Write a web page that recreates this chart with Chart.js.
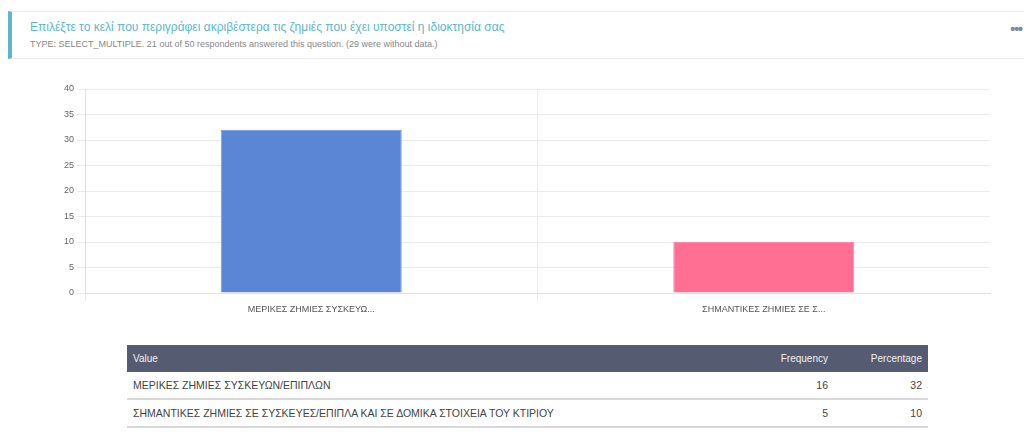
<!DOCTYPE html>
<html>
<head>
<meta charset="utf-8">
<script src="https://cdn.jsdelivr.net/npm/chart.js@4/dist/chart.umd.min.js"></script>
<style>
  body { margin: 0; background: #fff; font-family: "Liberation Sans", Arial, sans-serif; }
  .wrap { position: relative; width: 1024px; height: 446px; overflow: hidden; }
  .head {
    position: absolute; left: 8px; top: 11px; right: 0; height: 46px;
    border-top: 1px solid #ececec; border-bottom: 1px solid #ececec;
    border-left: 4px solid #5bb8c9;
  }
  .title { position: absolute; left: 18px; top: 8px; font-size: 12px; color: #5bb8c9; white-space: nowrap; }
  .sub { position: absolute; left: 18px; top: 27px; font-size: 9px; color: #888; white-space: nowrap; }
  .dots { position: absolute; right: 2px; top: 9px; font-size: 14px; color: #7e86a3; letter-spacing: -1px; font-weight: bold; }
  .chartBox { position: absolute; left: 0; top: 80px; width: 1024px; height: 240px; }
  table {
    position: absolute; left: 127px; top: 345px; width: 801px;
    border-collapse: collapse; font-family: "Liberation Sans", Arial, sans-serif;
    font-size: 10.5px; color: #444;
  }
  th { background: #555b70; color: #f2f2f2; font-weight: normal; font-size: 10px; height: 27px; padding: 0 6px; text-align: left; }
  td { height: 26px; padding: 0 6px; border-bottom: 2px solid #d8d8d8; }
  .num { text-align: right; }
</style>
</head>
<body>
<div class="wrap">
  <div class="head">
    <div class="title">Επιλέξτε το κελί που περιγράφει ακριβέστερα τις ζημιές που έχει υποστεί η ιδιοκτησία σας</div>
    <div class="sub">TYPE: SELECT_MULTIPLE. 21 out of 50 respondents answered this question. (29 were without data.)</div>
    <div class="dots">•••</div>
  </div>
  <div class="chartBox"><canvas id="c"></canvas></div>
  <table id="tbl">
    <thead><tr><th>Value</th><th class="num" style="width:90px">Frequency</th><th class="num" style="width:82px">Percentage</th></tr></thead>
    <tbody></tbody>
  </table>
</div>
<script>
const categories = [
  "ΜΕΡΙΚΕΣ ΖΗΜΙΕΣ ΣΥΣΚΕΥΩΝ/ΕΠΙΠΛΩΝ",
  "ΣΗΜΑΝΤΙΚΕΣ ΖΗΜΙΕΣ ΣΕ ΣΥΣΚΕΥΕΣ/ΕΠΙΠΛΑ ΚΑΙ ΣΕ ΔΟΜΙΚΑ ΣΤΟΙΧΕΙΑ ΤΟΥ ΚΤΙΡΙΟΥ"
];
const shortLabels = ["ΜΕΡΙΚΕΣ ΖΗΜΙΕΣ ΣΥΣΚΕΥΩ...", "ΣΗΜΑΝΤΙΚΕΣ ΖΗΜΙΕΣ ΣΕ Σ..."];
const frequency = [16, 5];
const percentage = [32, 10];
const barColors = ["#5b86d6", "#ff6f94"];
const yTicks = [0, 5, 10, 15, 20, 25, 30, 35, 40];

const tbody = document.querySelector("#tbl tbody");
categories.forEach((c, i) => {
  const tr = document.createElement("tr");
  tr.innerHTML = `<td>${c}</td><td class="num">${frequency[i]}</td><td class="num">${percentage[i]}</td>`;
  tbody.appendChild(tr);
});

new Chart(document.getElementById("c"), {
  type: "bar",
  data: {
    labels: shortLabels,
    datasets: [{
      data: percentage,
      backgroundColor: barColors,
      borderColor: ["#7a9de0", "#ff8aa8"],
      borderWidth: 1,
      barPercentage: 0.5,
      categoryPercentage: 0.8
    }]
  },
  options: {
    responsive: true,
    maintainAspectRatio: false,
    animation: false,
    layout: { padding: { left: 40, right: 34, top: 9, bottom: 0 } },
    plugins: { legend: { display: false }, tooltip: { enabled: false } },
    scales: {
      x: {
        // the extra offset line on the right gets the scale context, hide it
        grid: { offset: true, color: (ctx) => ctx.type === "tick" ? "#ebebeb" : "rgba(0,0,0,0)" },
        border: { color: "#e0e0e0" },
        ticks: { font: { size: 9 }, color: "#555", maxRotation: 0 },
        afterFit: (s) => { s.height = 27; }
      },
      y: {
        min: 0, max: 40,
        afterBuildTicks: (s) => { s.ticks = yTicks.map(v => ({ value: v })); },
        grid: { color: "#ebebeb" },
        border: { color: "#e0e0e0" },
        ticks: { font: { size: 9 }, color: "#666" },
        afterFit: (s) => { s.width = 45; }
      }
    }
  }
});
</script>
</body>
</html>
